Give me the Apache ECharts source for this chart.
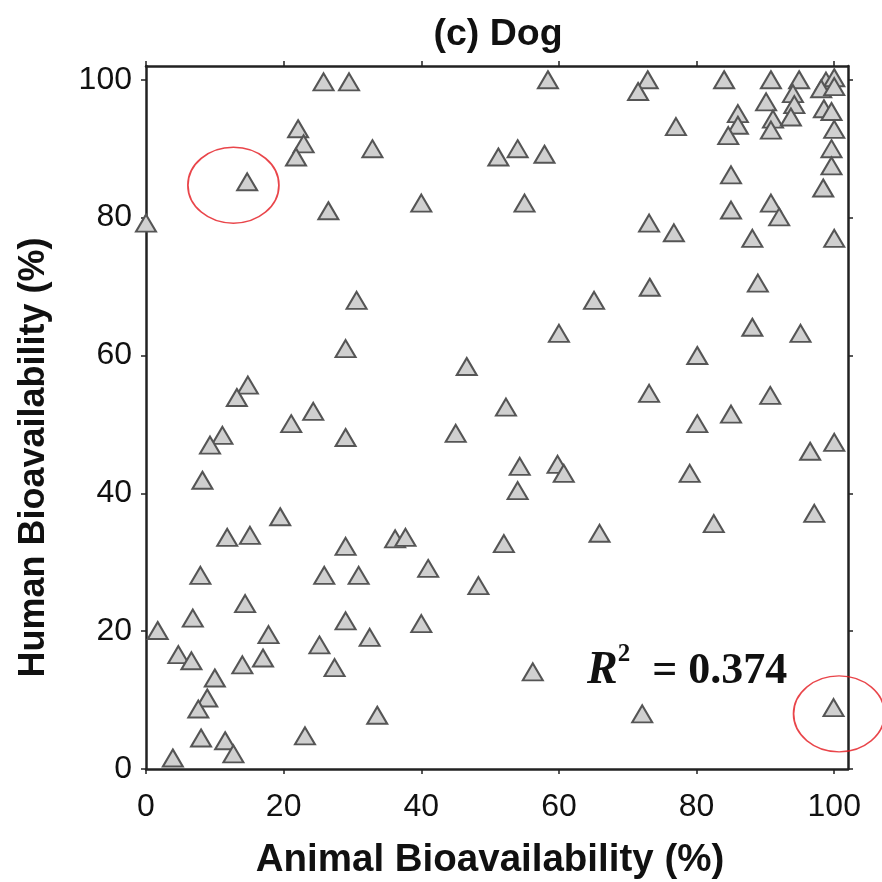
<!DOCTYPE html>
<html>
<head>
<meta charset="utf-8">
<script src="https://cdn.jsdelivr.net/npm/echarts@6/dist/echarts.min.js"></script>
<style>
  html, body { margin: 0; padding: 0; background: #ffffff; }
  #chart { width: 882px; height: 882px; }
</style>
</head>
<body>
<div id="chart"></div>
<script>
// Oral bioavailability: dog (x) versus human (y), in percent
const animalBio = [
  25.8, 29.5, 58.4, 72.9, 71.5, 84.0, 90.8, 94.9, 98.8, 100, 98.1, 100,
  90.1, 94.0, 94.2, 86.0, 86.0, 84.6, 91.1, 90.8, 93.7, 98.5, 99.6, 100,
  99.6, 99.6, 98.4, 77.0, 85.0, 73.1, 76.7, 85.0, 90.8, 92.0, 88.1, 100,
  73.2, 88.9,
  22.1, 22.9, 21.8, 32.9, 14.7, 26.5, 0, 30.6, 51.2, 54.0, 57.9, 40.0,
  55.0, 65.1,
  29.0, 14.8, 13.2, 24.3, 21.1, 29.0, 11.1, 9.3, 8.2, 19.5, 11.8, 15.1,
  29.0, 60.0, 46.6, 52.3, 45.0, 54.3, 59.8, 60.7, 54.0, 36.2, 37.7, 52.0,
  65.9, 88.1, 95.1, 80.1, 73.1, 90.7, 85.0, 80.1, 96.5, 100, 79.0, 97.1,
  82.5,
  7.9, 25.9, 30.9, 14.4, 6.8, 29.0, 1.7, 17.8, 32.5, 25.2, 4.7, 6.6,
  14.0, 17.0, 27.4, 10.0, 8.9, 7.6, 33.6, 8.0, 11.5, 12.7, 23.1, 3.9,
  41.0, 48.3, 40.0, 56.2, 72.1, 99.9
];
const humanBio = [
  99.7, 99.7, 100, 100, 98.3, 100, 100, 100, 99.8, 100.3, 98.7, 99.0,
  96.8, 98.0, 96.4, 95.1, 93.4, 91.9, 94.3, 92.7, 94.6, 95.8, 95.4, 92.8,
  90.0, 87.5, 84.3, 93.2, 86.2, 79.2, 77.8, 81.1, 82.1, 80.1, 77.0, 77.0,
  69.9, 70.5,
  92.9, 90.7, 88.8, 90.0, 85.2, 81.0, 79.2, 68.0, 88.8, 90.0, 89.2, 82.1,
  82.1, 68.0,
  61.0, 55.7, 53.9, 51.9, 50.1, 48.1, 48.4, 47.0, 41.9, 36.6, 33.6, 33.9,
  32.3, 63.2, 58.4, 52.5, 48.7, 43.9, 44.2, 42.9, 40.4, 33.4, 33.6, 32.7,
  34.2, 64.1, 63.2, 60.0, 54.5, 54.2, 51.5, 50.1, 46.1, 47.4, 42.9, 37.1,
  35.6,
  28.1, 28.1, 28.1, 24.0, 21.9, 21.5, 20.1, 19.5, 19.1, 18.0, 16.6, 15.7,
  15.1, 16.1, 14.7, 13.2, 10.3, 8.7, 7.8, 4.5, 4.1, 2.2, 4.8, 1.6,
  29.1, 26.6, 21.1, 14.1, 8.0, 8.9
];

// Compounds circled as outliers
const outlierX = [12.7, 100.7];
const outlierY = [84.7, 8.0];

const tickValues = [0, 20, 40, 60, 80, 100];
const rSquaredText = '0.374';
const chartTitle = '(c) Dog';
const xTitle = 'Animal Bioavailability (%)';
const yTitle = 'Human Bioavailability (%)';

const points = animalBio.map((x, i) => [x, humanBio[i]]);
const outliers = outlierX.map((x, i) => [x, outlierY[i]]);

const sans = 'Liberation Sans, Arial, Helvetica, sans-serif';
const serif = 'Liberation Serif, Times New Roman, serif';
const axisColor = '#222222';

function frameAxis(position, showLabels) {
  const isX = position === 'bottom' || position === 'top';
  return {
    type: 'value',
    position: position,
    min: 0,
    max: 102,
    interval: 20,
    splitLine: { show: false },
    axisLine: { show: true, onZero: false, lineStyle: { color: axisColor, width: 2.5 } },
    axisTick: {
      show: true, inside: false, length: 5,
      customValues: tickValues,
      lineStyle: { color: axisColor, width: 1.5 }
    },
    axisLabel: {
      show: showLabels,
      customValues: tickValues,
      formatter: v => (v % 20 === 0 ? String(v) : ''),
      margin: isX ? 22 : 14,
      color: '#111',
      fontFamily: sans,
      fontSize: 32
    }
  };
}

const chart = echarts.init(document.getElementById('chart'), null, { renderer: 'canvas' });

const xBottom = Object.assign(frameAxis('bottom', true), {
  name: xTitle,
  nameLocation: 'middle',
  nameGap: 72,
  nameTextStyle: { fontFamily: sans, fontWeight: 'bold', fontSize: 38.5, color: '#111', padding: [0, 14, 0, 0] }
});
const yLeft = Object.assign(frameAxis('left', true), {
  name: yTitle,
  nameLocation: 'middle',
  nameGap: 94,
  nameRotate: 90,
  nameTextStyle: { fontFamily: sans, fontWeight: 'bold', fontSize: 36, color: '#111', padding: [0, 80, 0, 0] }
});

chart.setOption({
  animation: false,
  backgroundColor: '#ffffff',
  title: {
    text: chartTitle,
    left: 493,
    top: 11,
    textAlign: 'center',
    textStyle: { fontFamily: sans, fontWeight: 'bold', fontSize: 37.5, color: '#111' }
  },
  grid: { left: 146, right: 34, top: 66, bottom: 113, containLabel: false, outerBoundsMode: 'none' },
  xAxis: [xBottom, frameAxis('top', false)],
  yAxis: [yLeft, frameAxis('right', false)],
  series: [
    {
      name: 'Compounds',
      type: 'scatter',
      xAxisIndex: 0,
      yAxisIndex: 0,
      data: points,
      symbol: 'triangle',
      symbolSize: [20, 17],
      clip: false,
      itemStyle: { color: '#d0d0d0', borderColor: '#555555', borderWidth: 2, opacity: 1 },
      emphasis: { disabled: true },
      z: 3
    },
    {
      name: 'Outliers',
      type: 'scatter',
      xAxisIndex: 0,
      yAxisIndex: 0,
      data: outliers,
      symbol: 'circle',
      symbolSize: [91, 76],
      clip: false,
      silent: true,
      itemStyle: { color: 'rgba(0,0,0,0)', borderColor: '#e3161d', borderWidth: 1.6 },
      emphasis: { disabled: true },
      z: 4
    }
  ],
  graphic: [
    {
      type: 'text',
      left: 587,
      top: 642,
      z: 10,
      style: {
        text: '{r|R}{sup|2}{eq|  = ' + rSquaredText + '}',
        rich: {
          r: { fontFamily: serif, fontStyle: 'italic', fontWeight: 'bold', fontSize: 46, fill: '#111', verticalAlign: 'bottom' },
          sup: { fontFamily: serif, fontWeight: 'bold', fontSize: 25, fill: '#111', verticalAlign: 'top', padding: [0, 0, 27, 0] },
          eq: { fontFamily: serif, fontWeight: 'bold', fontSize: 44, fill: '#111', verticalAlign: 'bottom' }
        }
      }
    }
  ]
});
</script>
</body>
</html>
